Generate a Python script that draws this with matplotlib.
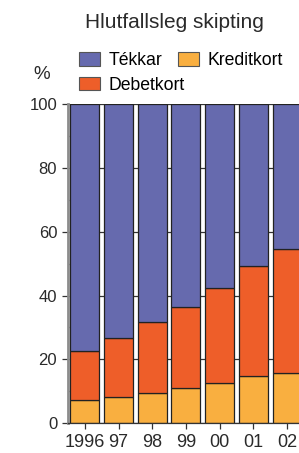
import matplotlib.pyplot as plt
import numpy as np

plt.rcParams['font.family'] = ['Liberation Sans', 'DejaVu Sans']

# Shares of payments (%)
years = ['1996', '97', '98', '99', '00', '01', '02']
kreditkort = [7.4, 8.3, 9.4, 11.0, 12.7, 14.9, 15.9]
debetkort = [15.3, 18.4, 22.3, 25.4, 29.8, 34.5, 38.8]
tekkar = [77.3, 73.3, 68.3, 63.6, 57.5, 50.6, 45.3]

c_tek = '#666aae'
c_deb = '#ee5e29'
c_kred = '#f9af40'

fig = plt.figure(figsize=(2.99, 4.53), dpi=100)
ax = fig.add_axes([0.2274, 0.0656, 0.789, 0.705])

x = np.arange(len(years))
w = 0.86
kred = np.array(kreditkort)
deb = np.array(debetkort)
tek = np.array(tekkar)
ax.bar(x, kred, w, color=c_kred, edgecolor='#222222', linewidth=0.9, zorder=2)
ax.bar(x, deb, w, bottom=kred, color=c_deb, edgecolor='#222222', linewidth=0.9, zorder=2)
ax.bar(x, tek, w, bottom=kred + deb, color=c_tek, edgecolor='#222222', linewidth=0.9, zorder=2)

ax.set_xlim(-0.5, 6.5)
ax.set_ylim(0, 100)
ax.set_yticks(range(0, 101, 20))
ax.set_yticks(range(10, 100, 20), minor=True)
ax.yaxis.grid(True, color='#333333', linewidth=0.9, zorder=0)
ax.set_axisbelow(True)
ax.set_xticks(x)
ax.set_xticklabels(years)

for s in ['top', 'right']:
    ax.spines[s].set_visible(False)
ax.spines['left'].set_color('#8c8c8c')
ax.spines['left'].set_linewidth(2)
ax.spines['bottom'].set_color('#333333')
ax.spines['bottom'].set_linewidth(0.9)

ax.tick_params(axis='y', which='major', direction='out', length=4.3, width=0.9,
               color='#333333', labelsize=12, pad=3.5, labelcolor='#2a2a2a')
ax.tick_params(axis='y', which='minor', direction='in', length=3, width=0.9, color='#333333')
ax.tick_params(axis='x', direction='out', length=4, width=0.9, color='#333333',
               labelsize=13, pad=4, labelcolor='#2a2a2a')

fig.text(0.584, 0.951, 'Hlutfallsleg skipting', ha='center', va='center',
         fontsize=15, color='#2a2a2a')
fig.text(0.139, 0.836, '%', ha='center', va='center', fontsize=13.5, color='#2a2a2a')

handles = [plt.Rectangle((0, 0), 1, 1, facecolor=c, edgecolor='#555555', linewidth=0.8)
           for c in (c_tek, c_deb, c_kred)]
leg_kw = dict(loc='upper left', frameon=False, fontsize=12.7, handlelength=1.19,
              handleheight=0.79, handletextpad=0.5, labelspacing=0.42,
              borderaxespad=0, borderpad=0)
fig.legend(handles[:2], ['Tékkar', 'Debetkort'], bbox_to_anchor=(0.264, 0.885), **leg_kw)
fig.legend(handles[2:], ['Kreditkort'], bbox_to_anchor=(0.595, 0.885), **leg_kw)

fig.savefig('out.png', dpi=100)
